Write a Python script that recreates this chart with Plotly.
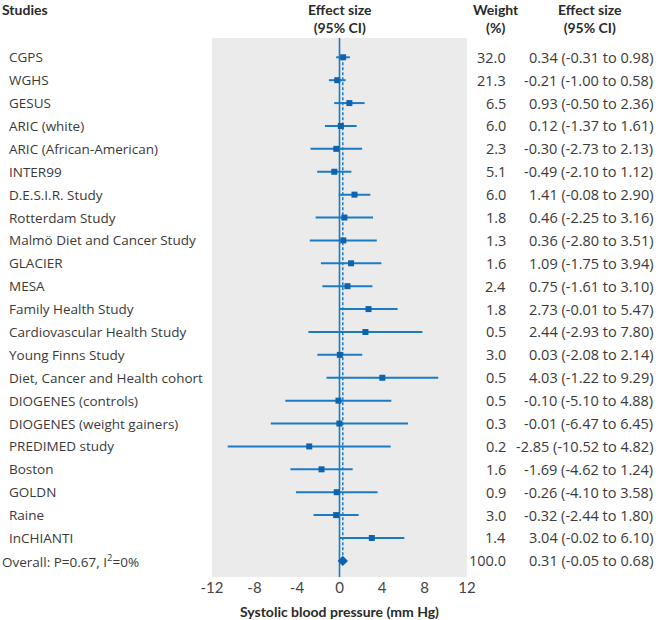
import plotly.graph_objects as go

studies = ["CGPS", "WGHS", "GESUS", "ARIC (white)", "ARIC (African-American)", "INTER99",
           "D.E.S.I.R. Study", "Rotterdam Study", "Malmö Diet and Cancer Study", "GLACIER",
           "MESA", "Family Health Study", "Cardiovascular Health Study", "Young Finns Study",
           "Diet, Cancer and Health cohort", "DIOGENES (controls)", "DIOGENES (weight gainers)",
           "PREDIMED study", "Boston", "GOLDN", "Raine", "InCHIANTI"]
weights = [32.0, 21.3, 6.5, 6.0, 2.3, 5.1, 6.0, 1.8, 1.3, 1.6, 2.4, 1.8, 0.5, 3.0, 0.5, 0.5, 0.3, 0.2, 1.6, 0.9, 3.0, 1.4]
es = [0.34, -0.21, 0.93, 0.12, -0.30, -0.49, 1.41, 0.46, 0.36, 1.09, 0.75, 2.73, 2.44, 0.03, 4.03, -0.10, -0.01, -2.85, -1.69, -0.26, -0.32, 3.04]
lo = [-0.31, -1.00, -0.50, -1.37, -2.73, -2.10, -0.08, -2.25, -2.80, -1.75, -1.61, -0.01, -2.93, -2.08, -1.22, -5.10, -6.47, -10.52, -4.62, -4.10, -2.44, -0.02]
hi = [0.98, 0.58, 2.36, 1.61, 2.13, 1.12, 2.90, 3.16, 3.51, 3.94, 3.10, 5.47, 7.80, 2.14, 9.29, 4.88, 6.45, 4.82, 1.24, 3.58, 1.80, 6.10]

overall_label = "Overall: P=0.67, I<sup>2</sup>=0%"
overall_weight = 100.0
overall_es = 0.31
overall_lo = -0.05
overall_hi = 0.68

x_ticks = [-12, -8, -4, 0, 4, 8, 12]
x_title = "Systolic blood pressure (mm Hg)"

W, H = 656, 620
L, R, T, B = 212, 189, 38, 43
PW = W - L - R
PH = H - T - B

def px(x):
    return (x - L) / PW

def py(y):
    return 1 + (T - y) / PH

LINE = "#1b7bc2"
MARK = "#0d63ad"
TXT = "#3a3a3a"
FONT = "Open Sans"
HFONT = "Lato"

rows = list(range(len(studies)))
orow = len(studies)

fig = go.Figure()

fig.add_trace(go.Scatter(
    x=es, y=rows, mode="markers",
    marker=dict(symbol="square", size=6, color=MARK, line=dict(width=0)),
    error_x=dict(type="data", symmetric=False,
                 array=[h - e for h, e in zip(hi, es)],
                 arrayminus=[e - l for e, l in zip(es, lo)],
                 color=LINE, thickness=2, width=0),
    showlegend=False, hoverinfo="skip"))

fig.add_trace(go.Scatter(
    x=[overall_es], y=[orow], mode="markers",
    marker=dict(symbol="diamond", size=8, color=MARK, line=dict(width=0)),
    error_x=dict(type="data", symmetric=False,
                 array=[overall_hi - overall_es], arrayminus=[overall_es - overall_lo],
                 color=LINE, thickness=2, width=0),
    showlegend=False, hoverinfo="skip"))

shapes = [
    dict(type="line", xref="x", yref="paper", x0=0, x1=0, y0=0, y1=1,
         line=dict(color=LINE, width=1.6), layer="below"),
    dict(type="line", xref="x", yref="y", x0=overall_es, x1=overall_es, y0=0, y1=orow,
         line=dict(color=LINE, width=1.5, dash="3px,2px"), layer="below"),
]

ann = []
SF = dict(size=13.5, color=TXT, family=FONT)
NF = dict(size=14.5, color=TXT, family=FONT)
for i, (s, w, e, l, h) in enumerate(zip(studies, weights, es, lo, hi)):
    ann.append(dict(x=px(7), y=i, xref="paper", yref="y", text=s, showarrow=False,
                    xanchor="left", yanchor="middle", font=SF))
    ann.append(dict(x=px(508), y=i, xref="paper", yref="y", text=f"{w:.1f}", showarrow=False,
                    xanchor="right", yanchor="middle", font=NF))
    ann.append(dict(x=px(655), y=i, xref="paper", yref="y", text=f"{e:.2f} ({l:.2f} to {h:.2f})",
                    showarrow=False, xanchor="right", yanchor="middle", font=NF))

ann.append(dict(x=px(0), y=orow, xref="paper", yref="y", text=overall_label, showarrow=False,
                xanchor="left", yanchor="middle", font=SF))
ann.append(dict(x=px(508), y=orow, xref="paper", yref="y", text=f"{overall_weight:.1f}", showarrow=False,
                xanchor="right", yanchor="middle", font=NF))
ann.append(dict(x=px(655), y=orow, xref="paper", yref="y",
                text=f"{overall_es:.2f} ({overall_lo:.2f} to {overall_hi:.2f})", showarrow=False,
                xanchor="right", yanchor="middle", font=NF))

HF = dict(size=14, color="#2a2a2a", family=HFONT)
ann.append(dict(x=px(0), y=py(10), xref="paper", yref="paper", text="<b>Studies</b>", showarrow=False,
                xanchor="left", yanchor="middle", font=HF))
for cx, txt in [(340, "<b>Effect size</b><br><b>(95% CI)</b>"),
                (496, "<b>Weight</b><br><b>(%)</b>"),
                (590, "<b>Effect size</b><br><b>(95% CI)</b>")]:
    ann.append(dict(x=px(cx), y=py(19), xref="paper", yref="paper", text=txt, showarrow=False,
                    xanchor="center", yanchor="middle", align="center", font=HF))
ann.append(dict(x=px(339.5), y=py(611), xref="paper", yref="paper", text=f"<b>{x_title}</b>",
                showarrow=False, xanchor="center", yanchor="middle", font=HF))

row_gap = 22.89
top_rows = (57.3 - T) / row_gap
bot_rows = (H - B - 57.3) / row_gap

fig.update_layout(
    width=W, height=H,
    margin=dict(l=L, r=R, t=T, b=B, pad=0),
    paper_bgcolor="white", plot_bgcolor="#ebebeb",
    font=dict(family=FONT, color=TXT),
    xaxis=dict(range=[-12, 12], tickvals=x_ticks, ticktext=[str(t) for t in x_ticks],
               showgrid=False, zeroline=False, showline=False, ticks="",
               tickfont=dict(size=15, color="#444", family=HFONT), fixedrange=True),
    yaxis=dict(range=[bot_rows, -top_rows], showticklabels=False, showgrid=False,
               zeroline=False, showline=False, ticks="", fixedrange=True),
    shapes=shapes, annotations=ann,
)

fig.write_html("out.html", config={"displayModeBar": False},
               post_script="document.body.style.margin='0';document.body.style.overflow='hidden';")
